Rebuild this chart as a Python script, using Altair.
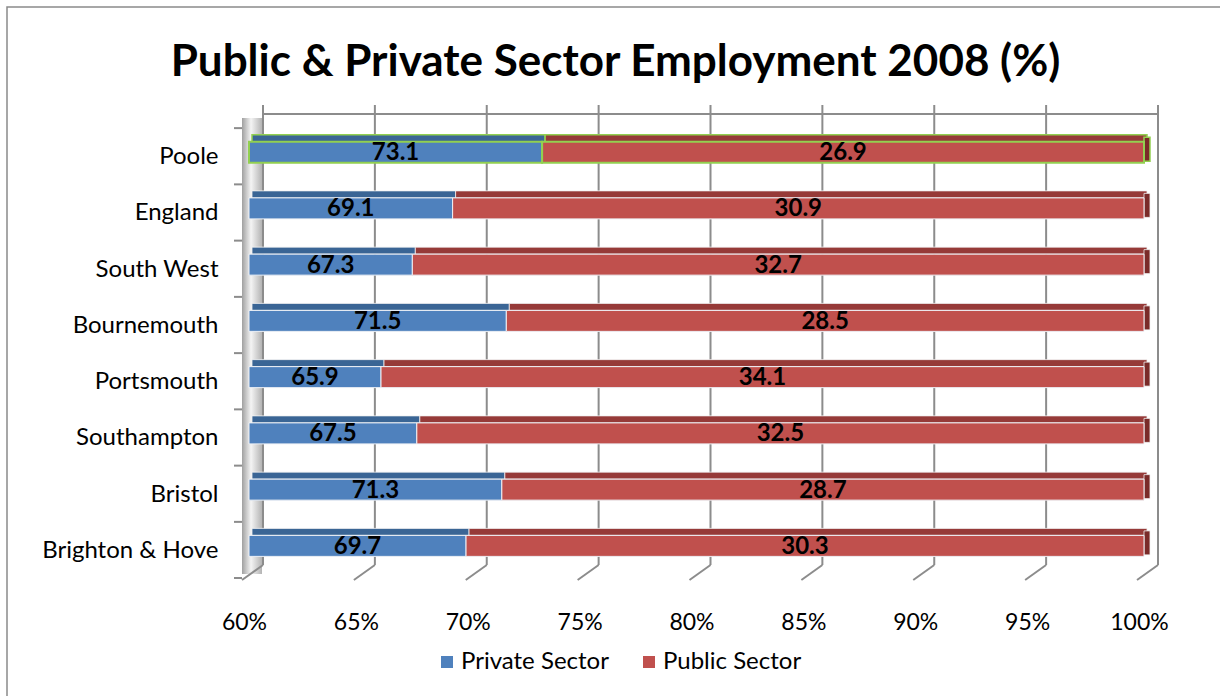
import altair as alt
import pandas as pd

categories = ["Poole", "England", "South West", "Bournemouth", "Portsmouth",
              "Southampton", "Bristol", "Brighton & Hove"]
private = [73.1, 69.1, 67.3, 71.5, 65.9, 67.5, 71.3, 69.7]
public = [26.9, 30.9, 32.7, 28.5, 34.1, 32.5, 28.7, 30.3]
series = ["Private Sector", "Public Sector"]
x_ticks = [60, 65, 70, 75, 80, 85, 90, 95, 100]
x_min, x_max = 60, 100

rows = []
for c, p, q in zip(categories, private, public):
    rows.append(dict(cat=c, series="Private Sector", start=x_min, end=p, value=p, mid=(x_min + p) / 2))
    rows.append(dict(cat=c, series="Public Sector", start=p, end=x_max, value=q, mid=(p + x_max) / 2))
df = pd.DataFrame(rows)
ticks_df = pd.DataFrame({"t": x_ticks})
cat_df = pd.DataFrame({"cat": categories})

FONT = "Lato"
xs = alt.Scale(domain=[x_min, x_max], nice=False, zero=False)
ys = alt.Scale(domain=categories, paddingInner=0, paddingOuter=0)
one = alt.Data(values=[{}])

border = alt.Chart(one).mark_rect(filled=False, stroke="#8a8a8a", strokeWidth=1.5).encode(
    x=alt.value(-242), x2=alt.value(1000), y=alt.value(-117), y2=alt.value(600))

wall = alt.Chart(one).mark_rect(
    xOffset=-7, x2Offset=13,
    color=alt.Gradient(gradient="linear", x1=0, x2=1, y1=0, y2=0,
                       stops=[alt.GradientStop(color="#a0a0a0", offset=0),
                              alt.GradientStop(color="#f4f4f4", offset=0.45),
                              alt.GradientStop(color="#b4b4b4", offset=1)])
).encode(x=alt.datum(x_min, scale=xs), x2=alt.datum(x_min), y=alt.value(-6), y2=alt.value(450))

grid_v = alt.Chart(ticks_df).mark_rule(xOffset=14, color="#8c8c8c", strokeWidth=2).encode(
    x=alt.X("t:Q", scale=xs), y=alt.value(-19), y2=alt.value(441))
grid_d = alt.Chart(ticks_df).mark_rule(xOffset=14, x2Offset=-7, color="#8c8c8c", strokeWidth=2).encode(
    x=alt.X("t:Q", scale=xs), x2="t:Q", y=alt.value(441), y2=alt.value(456))
grid_top = alt.Chart(one).mark_rule(xOffset=14, x2Offset=14, color="#8c8c8c", strokeWidth=2).encode(
    x=alt.datum(x_min, scale=xs), x2=alt.datum(x_max), y=alt.value(-10))
left_ticks = alt.Chart(cat_df).mark_rule(xOffset=-15, x2Offset=-7, yOffset=-24, color="#8c8c8c", strokeWidth=2).encode(
    x=alt.datum(x_min, scale=xs), x2=alt.datum(x_min), y=alt.Y("cat:N", scale=ys, sort=categories))
left_tick_last = alt.Chart(one).mark_rule(xOffset=-15, x2Offset=-7, color="#8c8c8c", strokeWidth=2).encode(
    x=alt.datum(x_min, scale=xs), x2=alt.datum(x_min), y=alt.value(454))

is_poole = "datum.cat === 'Poole'"

top_face = alt.Chart(df).mark_bar(height=7, yOffset=-14, xOffset=3, x2Offset=3).encode(
    x=alt.X("start:Q", scale=xs), x2="end:Q",
    y=alt.Y("cat:N", scale=ys, sort=categories),
    fill=alt.condition("datum.series === 'Private Sector'", alt.value("#3A6595"), alt.value("#963A38")),
    stroke=alt.condition(is_poole, alt.value("#92D050"), alt.value("#f2f2f2")),
    strokeWidth=alt.condition(is_poole, alt.value(1.5), alt.value(0.8)),
)

cap = alt.Chart(df).transform_filter("datum.series === 'Public Sector'").mark_bar(
    height=24, yOffset=-3, x2Offset=6, fill="#7A2B29").encode(
    x=alt.X("end:Q", scale=xs), x2="end:Q",
    y=alt.Y("cat:N", scale=ys, sort=categories),
    stroke=alt.condition(is_poole, alt.value("#92D050"), alt.value("#f2f2f2")),
    strokeWidth=alt.condition(is_poole, alt.value(1.5), alt.value(0.8)),
)

front = alt.Chart(df).mark_bar(height=21).encode(
    x=alt.X("start:Q", scale=xs,
            axis=alt.Axis(values=x_ticks, labelExpr="datum.value + '%'", grid=False, domain=False,
                          ticks=False, labelPadding=37, labelFontSize=23, labelFont=FONT,
                          labelColor="black", labelOffset=-5, labelFlush=False, title=None)),
    x2="end:Q",
    y=alt.Y("cat:N", scale=ys, sort=categories,
            axis=alt.Axis(title=None, domain=False, ticks=False, labelPadding=31, labelFontSize=24,
                          labelFont=FONT, labelColor="black", grid=False, labelOffset=5)),
    color=alt.Color("series:N", scale=alt.Scale(domain=series, range=["#4F81BD", "#C0504D"]),
                    legend=alt.Legend(title=None, orient="none", legendX=186, legendY=526,
                                      direction="horizontal", symbolType="square", symbolSize=144,
                                      symbolStrokeWidth=0, labelFontSize=24, labelFont=FONT,
                                      labelColor="black", columnPadding=28, labelOffset=2)),
    stroke=alt.condition(is_poole, alt.value("#92D050"), alt.value("#eef1f6")),
    strokeWidth=alt.condition(is_poole, alt.value(2), alt.value(1)),
)

labels = alt.Chart(df).mark_text(font=FONT, fontSize=24, fontWeight="bold", color="black",
                                 baseline="middle", dy=1).encode(
    x=alt.X("mid:Q", scale=xs), y=alt.Y("cat:N", scale=ys, sort=categories),
    text=alt.Text("value:Q", format=".1f"))

chart = alt.layer(border, wall, grid_v, grid_d, grid_top, left_ticks, left_tick_last,
                  top_face, cap, front, labels).properties(
    width=895, height=450,
    autosize=alt.AutoSizeParams(type="none"),
    padding={"left": 249, "top": 124, "right": 76, "bottom": 122},
    background="white",
    title=alt.TitleParams("Public & Private Sector Employment 2008 (%)", font=FONT, fontSize=44,
                          fontWeight="bold", color="black", anchor="middle", frame="group",
                          dx=-81, offset=-79),
).configure_view(stroke=None)

chart.save("out.html", embed_options={"renderer": "svg", "actions": False})
